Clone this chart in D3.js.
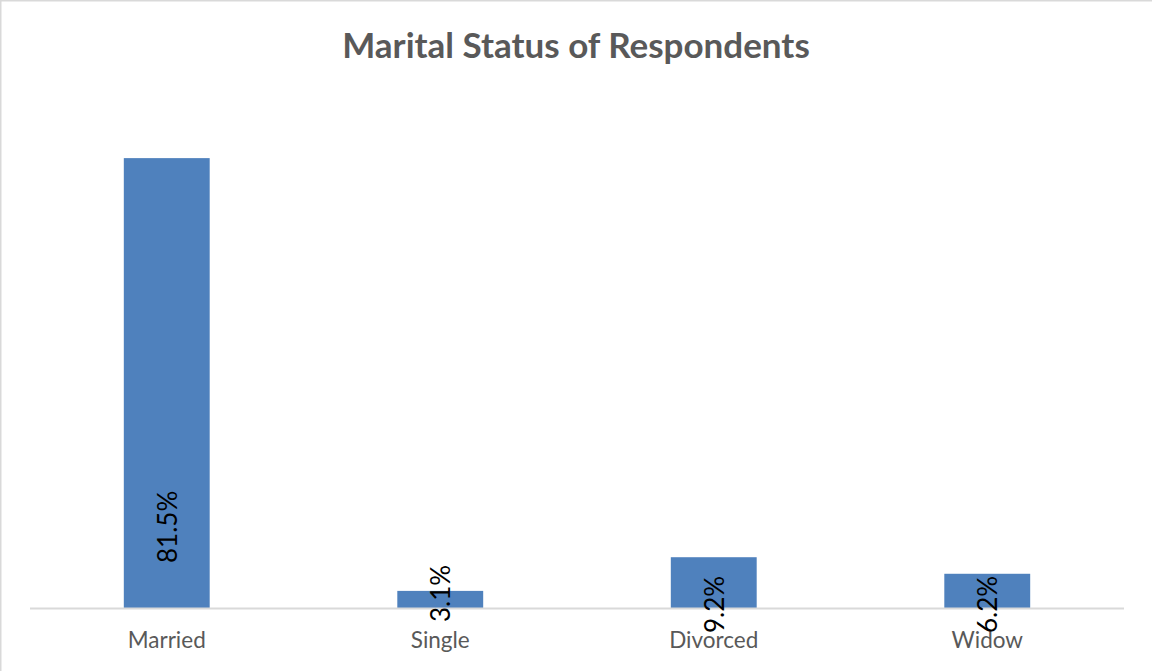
<!DOCTYPE html>
<html>
<head>
<meta charset="utf-8">
<script src="https://cdn.jsdelivr.net/npm/d3@7"></script>
<style>
body { margin: 0; background: #fff; }
text { font-family: Lato, "Open Sans", sans-serif; }
</style>
</head>
<body>
<div id="canvas"></div>
<script>
// DATA -----------------------------------------------------
var categories = ["Married", "Single", "Divorced", "Widow"];
var values = [81.5, 3.1, 9.2, 6.2];
var value_labels = ["81.5%", "3.1%", "9.2%", "6.2%"];

// label end offsets (px below baseline, negative = above) as placed in the original
var label_offsets = [-45, 14, 25, 25];

// STRUCTURE ------------------------------------------------
var W = 1152, H = 671;
var base_y = 608;

var svg = d3.select("#canvas").append("svg")
  .attr("width", W)
  .attr("height", H);

// chart frame
svg.append("rect")
  .attr("x", 0.5).attr("y", 0.5)
  .attr("width", W + 10).attr("height", H + 10)
  .style("fill", "#fff")
  .style("stroke", "#d9d9d9")
  .style("stroke-width", 2);

// scales
var xScale = d3.scaleBand()
  .domain(categories)
  .range([30, 1124])
  .paddingInner(0.686)
  .paddingOuter(0.343);

var yScale = d3.scaleLinear()
  .domain([0, 90])
  .range([base_y, base_y - 90 * 5.52]);

// bars
var bars = svg.append("g").attr("class", "bars")
  .selectAll("rect")
  .data(values)
  .enter()
  .append("rect")
  .attr("x", (d, i) => xScale(categories[i]))
  .attr("y", d => yScale(d))
  .attr("width", xScale.bandwidth())
  .attr("height", d => yScale(0) - yScale(d))
  .style("fill", "#4f81bd");

// axis line + category labels
var xAxis = svg.append("g")
  .attr("transform", `translate(0, ${base_y})`)
  .call(d3.axisBottom(xScale).tickSize(0).tickPadding(24));
xAxis.select(".domain")
  .attr("d", "M30,0.5H1124")
  .style("stroke", "#d9d9d9")
  .style("stroke-width", 2);
xAxis.selectAll("text")
  .style("font-family", "Lato, sans-serif")
  .style("font-size", "22.5px")
  .style("fill", "#595959");

// value labels, rotated
svg.append("g").attr("class", "value_labels")
  .selectAll("text")
  .data(values)
  .enter()
  .append("text")
  .attr("transform", (d, i) => {
    var cx = xScale(categories[i]) + xScale.bandwidth() / 2 + 10;
    var cy = base_y + label_offsets[i];
    return `translate(${cx}, ${cy}) rotate(-90)`;
  })
  .attr("text-anchor", "start")
  .style("font-size", "26px")
  .style("fill", "#000")
  .text((d, i) => value_labels[i]);

// title
svg.append("text")
  .attr("x", 576)
  .attr("y", 58)
  .attr("text-anchor", "middle")
  .style("font-size", "35px")
  .style("font-weight", "bold")
  .style("fill", "#595959")
  .text("Marital Status of Respondents");
</script>
</body>
</html>
